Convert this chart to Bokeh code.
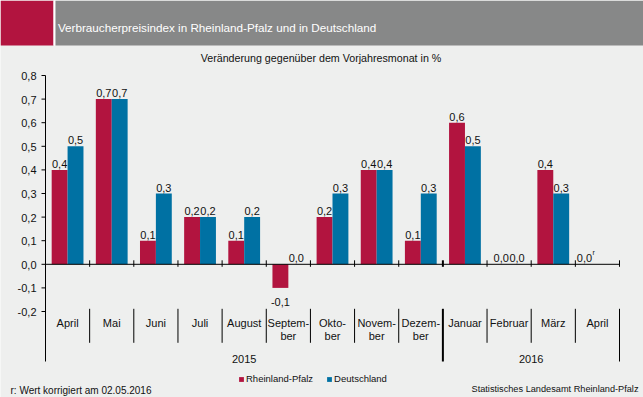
from bokeh.plotting import figure
from bokeh.models import (Range1d, ColumnDataSource, Label, Legend, LegendItem)
from bokeh.transform import dodge
from bokeh.core.properties import value
from bokeh.embed import file_html
from bokeh.resources import INLINE

# ---------------- data ----------------
years = ["2015"] * 9 + ["2016"] * 4
months = ["April", "Mai", "Juni", "Juli", "August", "September", "Oktober",
          "November", "Dezember", "Januar", "Februar", "März", "April"]
month_labels = ["April", "Mai", "Juni", "Juli", "August", "Septem-\nber", "Okto-\nber",
                "Novem-\nber", "Dezem-\nber", "Januar", "Februar", "März", "April"]
year_labels = ["2015", "2016"]
rp = [0.4, 0.7, 0.1, 0.2, 0.1, -0.1, 0.2, 0.4, 0.1, 0.6, 0.0, 0.4, 0.0]
de = [0.5, 0.7, 0.3, 0.2, 0.2, 0.0, 0.3, 0.4, 0.3, 0.5, 0.0, 0.3, None]
rp_revised = [False] * 12 + [True]
y_ticks = [-0.2, -0.1, 0.0, 0.1, 0.2, 0.3, 0.4, 0.5, 0.6, 0.7, 0.8]
series_names = ["Rheinland-Pfalz", "Deutschland"]

title_text = "Verbraucherpreisindex  in Rheinland-Pfalz und in Deutschland"
subtitle_text = "Veränderung gegenüber dem Vorjahresmonat in %"
footnote_text = "r: Wert korrigiert am 02.05.2016"
source_text = "Statistisches Landesamt Rheinland-Pfalz"

# ---------------- style / layout ----------------
RED = "#B2143F"
BLUE = "#0071A3"
BG = "#EEEFEE"
HEAD = "#878888"
FONT = "Liberation Sans"
TXT = "#111111"

FIG_W, FIG_H = 643, 397
AX_X = 45.0                      # pixel column of the value axis
CAT_PX = (619.0 - AX_X) / 13     # pixels per category
PPU = 236.0                      # pixels per 1.0 on the value axis
Y_TOP_PX = 75.0                  # pixel row of the top tick
n = len(months)

x_start = -AX_X / CAT_PX
x_end = (FIG_W - AX_X) / CAT_PX
y_end = y_ticks[-1] + Y_TOP_PX / PPU
y_start = y_ticks[-1] - (FIG_H - Y_TOP_PX) / PPU
axis_bottom = y_ticks[-1] - (361 - Y_TOP_PX) / PPU

xc = [i + 0.5 for i in range(n)]               # category centres
year_centre = [sum(x for x, y in zip(xc, years) if y == yl) /
               years.count(yl) for yl in year_labels]

p = figure(width=FIG_W, height=FIG_H, output_backend="svg", toolbar_location=None,
           title_location=None,
           x_range=Range1d(x_start, x_end), y_range=Range1d(y_start, y_end),
           x_axis_location=None, y_axis_location=None,
           min_border_left=0, min_border_right=0, min_border_top=0, min_border_bottom=0)
p.background_fill_color = BG
p.border_fill_color = BG
p.outline_line_color = None
p.grid.visible = False
p.extra_x_ranges = {"px": Range1d(0, FIG_W)}
p.extra_y_ranges = {"px": Range1d(FIG_H, 0)}

# header band
hsrc = ColumnDataSource(dict(l=[0, 53, 55], r=[53, 55, FIG_W], c=[RED, "white", HEAD]))
p.quad(left="l", right="r", top=0, bottom=45, fill_color="c", line_color=None,
       source=hsrc, x_range_name="px", y_range_name="px")
p.add_layout(Label(x=57.4, y=27.3, x_range_name="px", y_range_name="px", text=title_text,
                   text_color="white", text_font=FONT, text_font_size="11.7px",
                   text_baseline="alphabetic"))
p.add_layout(Label(x=320.5, y=57, x_range_name="px", y_range_name="px", text=subtitle_text,
                   text_color=TXT, text_font=FONT, text_font_size="10.7px",
                   text_align="center", text_baseline="alphabetic"))

# value axis (line, ticks, labels)
def fmt(v):
    return f"{v:.1f}".replace(".", ",")

p.segment(x0=0, x1=0, y0=axis_bottom, y1=y_ticks[-1], line_color="black", line_width=1)
tk = ColumnDataSource(dict(y=y_ticks, t=[fmt(v) for v in y_ticks]))
p.segment(x0=0, x1=-4 / CAT_PX, y0="y", y1="y", source=tk, line_color="black", line_width=1)
p.text(x=0, y="y", text="t", source=tk, x_offset=-9, y_offset=0.5,
       text_font=value(FONT), text_font_size="11px", text_color=TXT,
       text_align="right", text_baseline="middle")

# bars
src = ColumnDataSource(dict(x=xc, rp=rp,
                            de=[float("nan") if v is None else v for v in de]))
BW = 0.36
r_rp = p.vbar(x=dodge("x", -BW / 2), top="rp", width=BW, source=src,
              fill_color=RED, line_color=None)
r_de = p.vbar(x=dodge("x", BW / 2), top="de", width=BW, source=src,
              fill_color=BLUE, line_color=None)

# zero line
p.segment(x0=0, x1=n, y0=0, y1=0, line_color="black", line_width=1)

# value labels
for vals, off, flags in [(rp, -BW / 2, rp_revised), (de, BW / 2, [False] * n)]:
    xs, ys, ts, yo, xo = [], [], [], [], []
    for x, v, fl in zip(xc, vals, flags):
        if v is None:
            continue
        xs.append(x); ys.append(v); ts.append(fmt(v))
        yo.append(14 if v < 0 else -6)
        xo.append(-5 if fl else 0)
    ls = ColumnDataSource(dict(x=xs, y=ys, t=ts, yo=yo, xo=xo))
    p.text(x=dodge("x", off), y="y", text="t", y_offset="yo", x_offset="xo",
           source=ls, text_font=value(FONT), text_font_size="11px", text_color=TXT,
           text_align="center", text_baseline="alphabetic")

# revision marks
rx = [x for x, fl in zip(xc, rp_revised) if fl]
ry = [v for v, fl in zip(rp, rp_revised) if fl]
p.text(x=dodge("x", -BW / 2), y="y", text=value("r"),
       source=ColumnDataSource(dict(x=rx, y=ry)), x_offset=3, y_offset=-11.5,
       text_font=value(FONT), text_font_size="7px", text_color=TXT,
       text_align="left", text_baseline="alphabetic")

# category boundaries
bounds_x = list(range(1, n + 1))
year_change = [y0 != y1 for y0, y1 in zip(years[:-1], years[1:])] + [True]
bsrc = ColumnDataSource(dict(
    x=bounds_x,
    w=[2 if (c and i < n) else 1 for i, c in zip(bounds_x, year_change)],
    yb=[361 if c else 342.3 for c in year_change]))
p.segment(x0="x", x1="x", y0=4 / PPU, y1=-2.5 / PPU, line_width="w",
          line_color="black", source=bsrc)
p.segment(x0="x", x1="x", y0=308.3, y1="yb", line_width="w", line_color="black",
          source=bsrc, y_range_name="px")

# month and year labels
msrc = ColumnDataSource(dict(x=xc, t=month_labels, y=[316.5] * n))
p.text(x="x", y="y", text="t", source=msrc, y_range_name="px",
       text_font=value(FONT), text_font_size="11px", text_color=TXT,
       text_align="center", text_baseline="top", text_line_height=1.08)
ysrc = ColumnDataSource(dict(x=year_centre, t=year_labels, y=[358.3] * len(year_labels)))
p.text(x="x", y="y", text="t", source=ysrc, y_range_name="px",
       text_font=value(FONT), text_font_size="11px", text_color=TXT,
       text_align="center", text_baseline="alphabetic")

# legend
legend = Legend(items=[LegendItem(label=series_names[0], renderers=[r_rp]),
                       LegendItem(label=series_names[1], renderers=[r_de])],
                orientation="horizontal", location=(238, 13),
                glyph_width=6, glyph_height=6, label_standoff=2, spacing=13,
                padding=0, margin=0, border_line_color=None, background_fill_alpha=0,
                label_text_font=FONT, label_text_font_size="9.5px", label_text_color=TXT,
                label_height=6, label_width=10)
p.add_layout(legend)

# footer
p.add_layout(Label(x=10, y=390, x_range_name="px", y_range_name="px", text=footnote_text,
                   text_font=FONT, text_font_size="10px", text_color=TXT,
                   text_baseline="alphabetic"))
p.add_layout(Label(x=638, y=388.3, x_range_name="px", y_range_name="px", text=source_text,
                   text_font=FONT, text_font_size="9.2px", text_color=TXT,
                   text_align="right", text_baseline="alphabetic"))

open("out.html", "w").write(file_html(p, INLINE))
